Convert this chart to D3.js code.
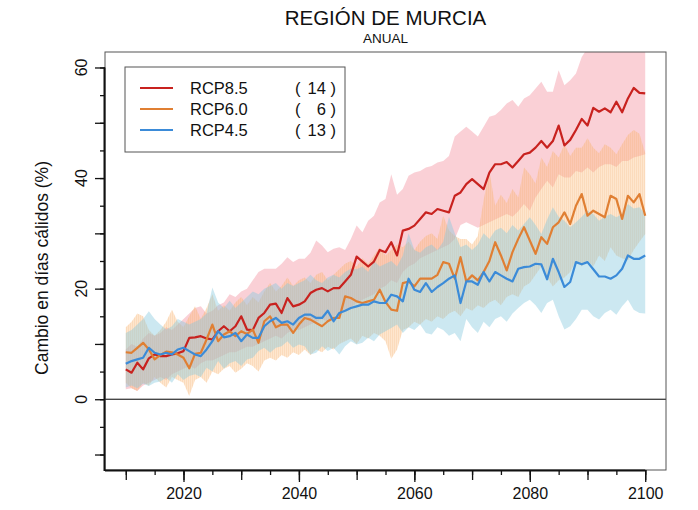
<!DOCTYPE html>
<html>
<head>
<meta charset="utf-8">
<script src="https://cdn.jsdelivr.net/npm/d3@7"></script>
<style>
  html, body { margin: 0; padding: 0; background: #fff; }
  svg text { font-family: "Liberation Sans", Arial, Helvetica, sans-serif; fill: #111; }
</style>
</head>
<body>
<svg id="chart" width="698" height="510"></svg>
<script>
// Annual change in warm days (%) for Región de Murcia, 2010-2100.
const years = d3.range(2010, 2101);

// Ensemble means
const rcp85Mean = [
  5.4, 4.8, 6.6, 5.4, 7.4, 8.1, 7.8, 7.8, 8.1, 8.3,
  8.7, 11.1, 11.2, 11.4, 11.0, 10.8, 12.3, 13.2, 12.3, 13.2,
  15.0, 12.6, 12.5, 14.7, 15.6, 17.1, 17.3, 15.6, 18.3, 16.8,
  17.1, 17.7, 19.2, 19.8, 20.1, 19.5, 20.1, 20.1, 21.3, 22.5,
  25.8, 24.9, 24.0, 24.9, 27.0, 26.6, 28.4, 26.0, 30.5, 30.8,
  31.4, 32.6, 33.8, 33.5, 34.4, 34.1, 33.8, 36.8, 37.4, 38.9,
  39.8, 38.9, 38.0, 41.0, 42.5, 42.5, 42.9, 41.9, 43.1, 44.3,
  44.6, 45.5, 46.7, 45.5, 46.7, 49.5, 45.9, 46.9, 48.7, 50.7,
  49.5, 52.7, 52.0, 52.6, 51.9, 53.8, 51.9, 54.4, 56.3, 55.4,
  55.3
];
const rcp60Mean = [
  8.5, 8.4, 9.3, 10.2, 9.0, 7.2, 8.0, 8.6, 8.5, 8.1,
  7.5, 5.6, 8.2, 8.4, 10.8, 13.5, 10.5, 11.7, 12.3, 11.4,
  12.3, 11.8, 12.6, 10.2, 14.1, 15.0, 13.0, 13.5, 13.5, 12.0,
  13.5, 14.7, 14.4, 13.8, 13.2, 14.1, 14.7, 14.7, 18.6, 18.3,
  17.7, 17.4, 17.7, 18.0, 19.8, 17.6, 16.2, 16.0, 21.0, 21.3,
  20.4, 21.8, 21.8, 21.8, 22.5, 24.8, 24.5, 21.8, 25.7, 21.3,
  22.4, 21.5, 23.0, 25.0, 28.4, 26.0, 23.3, 26.6, 29.0, 31.1,
  28.7, 26.3, 29.3, 28.1, 31.1, 32.0, 33.8, 31.7, 35.0, 37.1,
  33.2, 34.1, 33.5, 32.9, 36.8, 36.2, 32.6, 36.8, 35.6, 37.1,
  33.2
];
const rcp45Mean = [
  6.4, 6.9, 7.2, 7.5, 9.3, 8.4, 8.1, 8.4, 8.1, 9.0,
  9.3, 8.7, 8.1, 7.8, 9.0, 10.5, 12.3, 11.2, 11.4, 12.0,
  10.5, 11.7, 11.1, 11.1, 13.2, 14.1, 14.7, 13.8, 14.1, 13.5,
  14.7, 15.3, 15.3, 14.7, 14.7, 16.0, 14.1, 15.6, 16.0, 16.5,
  16.8, 17.1, 17.1, 17.7, 17.4, 17.4, 18.9, 18.6, 17.7, 21.8,
  19.8, 19.4, 21.0, 19.4, 20.3, 21.0, 21.8, 22.4, 17.4, 21.3,
  21.3, 20.7, 23.0, 21.3, 23.0, 22.4, 21.8, 21.3, 23.6, 23.9,
  24.0, 24.5, 24.4, 21.7, 25.4, 23.0, 20.3, 21.2, 24.8, 24.4,
  24.8, 23.5, 22.2, 22.2, 21.8, 22.4, 23.6, 26.0, 25.4, 25.4,
  26.0
];

// Ensemble spread (lower / upper envelopes)
const rcp85Lo = [
  1.8, 2.0, 1.5, 2.5, 3.0, 3.5, 4.0, 3.5, 4.5, 5.0,
  5.5, 6.0, 5.5, 6.5, 7.0, 7.0, 7.5, 8.0, 8.5, 8.5,
  9.0, 9.5, 9.5, 10.0, 10.5, 11.0, 11.5, 11.0, 12.0, 12.5,
  12.5, 13.0, 13.5, 14.0, 14.5, 14.0, 15.0, 15.5, 16.0, 16.5,
  17.5, 18.0, 18.5, 19.0, 20.0, 20.5, 21.5, 21.0, 23.0, 24.0,
  24.5, 25.5, 26.0, 26.5, 27.0, 27.5, 28.0, 29.0, 31.5, 32.0,
  31.5, 31.0, 31.5, 32.0, 32.5, 33.0, 33.5, 33.0, 34.0, 35.3,
  34.1, 36.5, 38.0, 39.5, 38.3, 40.7, 40.1, 40.1, 41.3, 41.0,
  41.9, 41.0, 42.0, 42.5, 42.5, 42.0, 43.1, 43.1, 43.7, 44.0,
  44.3
];
const rcp85Hi = [
  9.0, 10.0, 9.5, 11.0, 12.0, 11.5, 12.0, 13.0, 12.5, 13.5,
  14.5, 15.5, 16.5, 16.8, 15.5, 16.0, 17.0, 17.5, 19.0, 18.5,
  19.5, 20.0, 21.5, 23.0, 23.6, 23.6, 23.6, 24.5, 25.7, 24.8,
  25.4, 25.4, 26.5, 28.7, 27.8, 26.6, 27.2, 27.5, 27.0, 29.0,
  31.4, 30.2, 32.3, 33.2, 35.6, 36.2, 40.7, 37.0, 38.0, 40.4,
  41.0, 41.3, 41.9, 42.2, 42.8, 43.1, 44.0, 47.5, 48.4, 49.3,
  48.4, 47.5, 49.3, 51.1, 51.4, 52.3, 53.5, 54.1, 52.9, 54.4,
  55.0, 56.2, 57.4, 55.6, 55.6, 59.5, 56.8, 57.7, 58.9, 61.9,
  63.5, 64.5, 64.0, 65.0, 64.5, 66.0, 65.5, 66.5, 67.0, 66.5,
  67.0
];
const rcp60Lo = [
  3.0, 2.0, 1.5, 3.0, 2.5, 4.0, 3.0, 2.1, 4.0, 3.5,
  3.0, 0.6, 3.5, 4.0, 3.0, 5.0, 4.5, 5.5, 6.0, 4.8,
  5.5, 6.5, 6.0, 5.0, 7.0, 7.5, 7.0, 8.0, 7.5, 8.5,
  8.0, 9.0, 8.0, 9.0, 8.5, 9.5, 9.0, 10.0, 10.5, 11.0,
  10.0, 11.5, 11.0, 12.0, 11.5, 10.5, 7.3, 9.0, 12.5, 13.0,
  14.0, 13.5, 14.5, 14.0, 15.0, 14.5, 15.5, 16.0, 15.0, 16.5,
  16.0, 17.0, 16.5, 17.5, 18.0, 17.0, 18.5, 19.0, 18.5, 20.4,
  21.0, 22.5, 24.0, 22.0, 20.4, 21.5, 22.0, 23.0, 25.1, 24.0,
  25.1, 24.0, 26.0, 25.0, 27.5, 26.0, 25.5, 25.1, 27.0, 28.5,
  29.9
];
const rcp60Hi = [
  13.0, 14.0, 15.5, 15.0, 12.5, 11.5, 12.5, 14.0, 16.2, 14.0,
  13.0, 15.0, 16.8, 14.5, 16.5, 19.0, 16.0, 17.0, 16.0, 17.5,
  18.5, 17.0, 18.5, 17.5, 19.5, 21.0, 19.5, 20.5, 22.0, 20.5,
  21.5, 22.0, 21.0, 22.5, 23.0, 21.5, 22.5, 23.5, 24.5, 25.0,
  24.0, 25.5, 24.5, 26.0, 27.5, 26.0, 27.0, 28.0, 27.5, 28.5,
  27.0, 28.5, 29.5, 30.0, 29.0, 33.2, 30.5, 29.5, 29.0, 29.0,
  28.0, 29.5, 36.0, 41.2, 35.0, 37.0, 35.5, 38.0, 36.5, 41.9,
  40.7, 39.0, 43.7, 42.0, 44.9, 43.7, 46.1, 44.0, 45.5, 45.5,
  47.2, 45.5, 44.5, 46.1, 45.5, 44.3, 46.1, 47.8, 48.7, 48.0,
  44.5
];
const rcp45Lo = [
  2.1, 2.5, 2.0, 2.8, 2.4, 3.0, 3.2, 3.9, 3.0, 4.5,
  3.5, 4.2, 4.5, 4.0, 5.7, 5.0, 6.9, 5.5, 6.5, 6.9,
  6.0, 7.2, 7.5, 8.7, 9.3, 8.4, 9.3, 9.6, 10.5, 9.3,
  9.9, 9.6, 8.1, 8.4, 9.6, 8.7, 9.3, 8.1, 9.6, 10.5,
  9.9, 10.2, 11.1, 10.5, 11.7, 12.3, 12.9, 13.5, 12.0, 13.0,
  12.5, 13.5, 12.0, 11.7, 13.0, 12.5, 11.5, 12.0, 10.5, 14.5,
  13.0, 12.0, 14.0, 13.0, 14.5, 15.0, 14.0, 15.5, 16.5, 17.4,
  18.0, 17.0, 15.6, 17.4, 18.0, 15.0, 12.6, 13.2, 14.5, 16.2,
  16.2, 15.0, 14.4, 15.6, 16.2, 15.3, 16.8, 18.0, 16.2, 15.6,
  15.5
];
const rcp45Hi = [
  12.0, 12.5, 13.5, 14.5, 15.9, 14.5, 13.5, 12.6, 13.2, 14.5,
  14.0, 13.5, 14.0, 14.5, 15.5, 20.2, 17.5, 16.5, 17.8, 16.5,
  17.5, 18.5, 19.5, 19.0, 20.0, 20.5, 21.0, 20.0, 21.0, 20.5,
  21.0, 21.5, 22.5, 21.5, 21.0, 22.0, 22.5, 22.0, 23.0, 23.6,
  23.5, 24.0, 23.0, 25.0, 24.0, 24.5, 25.0, 24.0, 26.0, 30.0,
  27.0, 26.5, 27.5, 28.0, 27.0, 28.5, 33.0, 30.0, 27.5, 28.0,
  27.0, 28.0, 30.0, 29.0, 30.5, 31.0, 30.0, 31.5, 30.5, 31.7,
  32.9, 31.5, 29.9, 32.5, 34.7, 33.0, 32.3, 31.1, 32.0, 33.0,
  34.1, 33.5, 32.3, 33.0, 33.5, 32.9, 33.5, 35.3, 34.5, 34.7,
  33.5
];

const scenarioNames = ["RCP8.5", "RCP6.0", "RCP4.5"];
const modelCounts = [14, 6, 13];
const xTickLabels = [2020, 2040, 2060, 2080, 2100];
const yTickLabels = [0, 20, 40, 60];

const scenarios = [
  { name: scenarioNames[0], n: modelCounts[0], mean: rcp85Mean, lo: rcp85Lo, hi: rcp85Hi,
    line: "#c8221f", fill: "#f28e9e", fillOpacity: 0.42, hatch: null },
  { name: scenarioNames[1], n: modelCounts[1], mean: rcp60Mean, lo: rcp60Lo, hi: rcp60Hi,
    line: "#e07f33", fill: "#fdb978", fillOpacity: 0.36, hatch: "#f0a560" },
  { name: scenarioNames[2], n: modelCounts[2], mean: rcp45Mean, lo: rcp45Lo, hi: rcp45Hi,
    line: "#3b8bd8", fill: "#86c8de", fillOpacity: 0.42, hatch: null }
];

const box = { left: 105, right: 666, top: 52, bottom: 470 };
const svg = d3.select("#chart");

// R-style axis extents: data limits padded by 4% on each side
const x = d3.scaleLinear().domain([2006.4, 2103.6]).range([box.left, box.right]);
const y = d3.scaleLinear().domain([-12.8, 62.8]).range([box.bottom, box.top]);

const defs = svg.append("defs");
defs.append("clipPath").attr("id", "plot-clip")
  .append("rect")
  .attr("x", box.left).attr("y", box.top)
  .attr("width", box.right - box.left).attr("height", box.bottom - box.top);

// fine vertical hatching for the RCP6.0 envelope
scenarios.forEach((s, i) => {
  if (!s.hatch) return;
  const p = defs.append("pattern")
    .attr("id", "hatch-" + i)
    .attr("patternUnits", "userSpaceOnUse")
    .attr("width", 2).attr("height", 8);
  p.append("rect").attr("x", 0).attr("y", 0).attr("width", 1).attr("height", 8)
    .attr("fill", s.hatch).attr("opacity", 0.16);
});

const plot = svg.append("g").attr("clip-path", "url(#plot-clip)");

// zero reference line
plot.append("line")
  .attr("x1", box.left).attr("x2", box.right)
  .attr("y1", y(0)).attr("y2", y(0))
  .attr("stroke", "#000").attr("stroke-width", 1);

// spread envelopes
scenarios.forEach((s, i) => {
  const area = d3.area()
    .x((d, k) => x(years[k]))
    .y0((d, k) => y(s.lo[k]))
    .y1((d, k) => y(s.hi[k]));
  plot.append("path").datum(s.mean)
    .attr("d", area)
    .attr("fill", s.fill)
    .attr("fill-opacity", s.fillOpacity)
    .attr("stroke", "none");
  if (s.hatch) {
    plot.append("path").datum(s.mean)
      .attr("d", area)
      .attr("fill", "url(#hatch-" + i + ")")
      .attr("stroke", "none");
  }
});

// ensemble mean lines
scenarios.forEach(s => {
  const line = d3.line()
    .x((d, k) => x(years[k]))
    .y(d => y(d));
  plot.append("path").datum(s.mean)
    .attr("d", line)
    .attr("fill", "none")
    .attr("stroke", s.line)
    .attr("stroke-width", 2.2)
    .attr("stroke-linejoin", "round");
});

// plot frame
svg.append("rect")
  .attr("x", box.left).attr("y", box.top)
  .attr("width", box.right - box.left).attr("height", box.bottom - box.top)
  .attr("fill", "none").attr("stroke", "#555").attr("stroke-width", 1);

// x axis: ticks every 5, 10 and 20 years
function xTicks(values, size, labels) {
  const g = svg.append("g").attr("transform", `translate(0,${box.bottom})`);
  g.call(d3.axisBottom(x).tickValues(values).tickSize(size).tickPadding(6)
    .tickFormat(labels ? d3.format("d") : ""));
  g.select(".domain").remove();
  g.selectAll(".tick line").attr("stroke", "#111").attr("stroke-width", 1.3);
  g.selectAll(".tick text").attr("font-size", 16).attr("fill", "#111");
  return g;
}
xTicks(d3.range(2010, 2101, 5), 5, false);
xTicks(d3.range(2010, 2101, 10), 10, false);
xTicks(xTickLabels, 12, true);
svg.append("line")
  .attr("x1", box.left).attr("x2", x(2100))
  .attr("y1", box.bottom + 0.5).attr("y2", box.bottom + 0.5)
  .attr("stroke", "#111").attr("stroke-width", 2);

// y axis: ticks every 5 and 10, labels every 20 (vertical, R style)
function yTicks(values, size) {
  const g = svg.append("g").attr("transform", `translate(${box.left},0)`);
  g.call(d3.axisLeft(y).tickValues(values).tickSize(size).tickFormat(""));
  g.select(".domain").remove();
  g.selectAll(".tick line").attr("stroke", "#111").attr("stroke-width", 1.3);
  return g;
}
yTicks(d3.range(-10, 61, 5), 5);
yTicks(d3.range(-10, 61, 10), 10);
svg.append("line")
  .attr("x1", box.left - 0.5).attr("x2", box.left - 0.5)
  .attr("y1", box.bottom + 1).attr("y2", y(60))
  .attr("stroke", "#111").attr("stroke-width", 2);
svg.append("g").selectAll("text").data(yTickLabels).join("text")
  .attr("transform", d => `translate(87,${y(d)}) rotate(-90)`)
  .attr("text-anchor", "middle")
  .attr("font-size", 16)
  .text(d => d);

// axis title
svg.append("text")
  .attr("transform", `translate(48,268) rotate(-90)`)
  .attr("text-anchor", "middle")
  .attr("font-size", 17.5)
  .text("Cambio en días cálidos (%)");

// titles
svg.append("text")
  .attr("x", (box.left + box.right) / 2).attr("y", 25)
  .attr("text-anchor", "middle").attr("font-size", 20.5)
  .text("REGIÓN DE MURCIA");
svg.append("text")
  .attr("x", (box.left + box.right) / 2).attr("y", 43)
  .attr("text-anchor", "middle").attr("font-size", 13.5)
  .text("ANUAL");

// legend
const legend = svg.append("g");
legend.append("rect")
  .attr("x", 125).attr("y", 67).attr("width", 220).attr("height", 85)
  .attr("fill", "#fff").attr("stroke", "#555").attr("stroke-width", 1);
scenarios.forEach((s, i) => {
  const ly = 88 + i * 21;
  legend.append("line")
    .attr("x1", 140).attr("x2", 173).attr("y1", ly).attr("y2", ly)
    .attr("stroke", s.line).attr("stroke-width", 2);
  legend.append("text").attr("x", 190).attr("y", ly + 6)
    .attr("font-size", 16.5).text(s.name);
  legend.append("text").attr("x", 295).attr("y", ly + 6)
    .attr("font-size", 16.5).text("(");
  legend.append("text").attr("x", 336).attr("y", ly + 6)
    .attr("font-size", 16.5).attr("text-anchor", "end").text(s.n + " )");
});
</script>
</body>
</html>
